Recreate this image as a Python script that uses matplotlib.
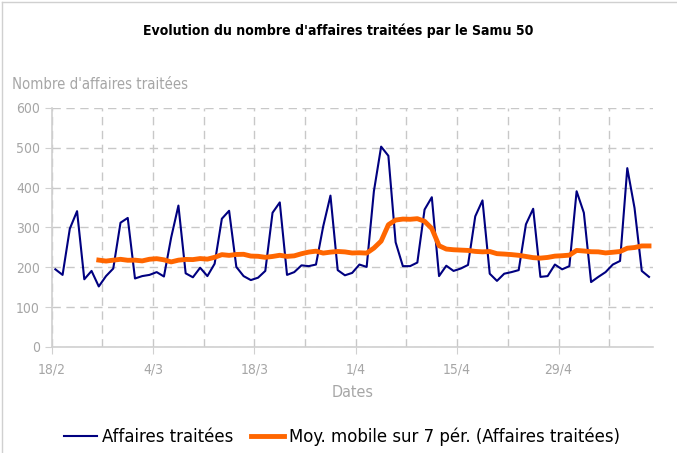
import matplotlib.pyplot as plt
from matplotlib.lines import Line2D
import pandas as pd

plt.rcParams['font.family'] = ['DejaVu Sans']
plt.rcParams['font.stretch'] = 'condensed'

# Affaires traitées par jour, à partir du 18/2
debut = '2021-02-18'
affaires = [195, 181, 297, 341, 170, 191, 152,
            178, 197, 312, 324, 172, 178, 181,
            188, 177, 275, 355, 185, 175, 199,
            178, 209, 322, 342, 201, 178, 168,
            174, 191, 337, 363, 181, 188, 205,
            203, 207, 303, 380, 193, 180, 186,
            207, 201, 391, 503, 480, 263, 203,
            203, 212, 345, 376, 178, 204, 191,
            197, 206, 328, 368, 184, 166, 184,
            188, 193, 308, 347, 176, 178, 207,
            195, 203, 391, 337, 163, 176, 188,
            207, 216, 449, 349, 191, 176]
ticks_txt = ['18/2', '4/3', '18/3', '1/4', '15/4', '29/4']
ticks_dates = ['2021-02-18', '2021-03-04', '2021-03-18', '2021-04-01', '2021-04-15', '2021-04-29']
yticks = [0, 100, 200, 300, 400, 500, 600]

dates = pd.date_range(debut, periods=len(affaires), freq='D')
serie = pd.Series(affaires, index=dates)
# moyenne mobile sur 7 périodes (comme Excel)
moy = serie.rolling(7).mean()
x = dates + pd.Timedelta(hours=12)

fig = plt.figure(figsize=(6.77, 4.53), dpi=100)
ax = fig.add_axes([0.0764, 0.234, 0.8876, 0.5276])

ax.plot(x, serie.values, color='#000080', lw=1.5, label='Affaires traitées')
ax.plot(x, moy.values, color='#ff6600', lw=3.5, label='Moy. mobile sur 7 pér. (Affaires traitées)')

fin = pd.Timestamp(debut) + pd.Timedelta(days=len(affaires))
ax.set_xlim(pd.Timestamp(debut), fin)
ax.set_ylim(0, 600)
ax.set_yticks(yticks)
ax.set_xticks(pd.to_datetime(ticks_dates))
ax.set_xticklabels(ticks_txt)
ax.set_xticks(pd.date_range(debut, fin, freq='7D'), minor=True)

gris = '#a6a6a6'
ax.grid(True, which='both', axis='x', color='#c8c8c8', linestyle=(0, (6, 4)), lw=1)
ax.grid(True, which='major', axis='y', color='#c8c8c8', linestyle=(0, (6, 4)), lw=1)
ax.set_axisbelow(True)
for s in ['top', 'right']:
    ax.spines[s].set_visible(False)
for s in ['left', 'bottom']:
    ax.spines[s].set_color('#d0d0d0')
    ax.spines[s].set_linewidth(1.2)
ax.tick_params(axis='both', which='major', colors='#d0d0d0', labelcolor=gris, labelsize=10, length=5)
ax.tick_params(axis='x', which='minor', length=0)
ax.tick_params(axis='x', pad=6)

ax.set_xlabel('Dates', color=gris, fontsize=11.5, labelpad=6)
fig.text(0.018, 0.803, "Nombre d'affaires traitées", color=gris, fontsize=10.7)
fig.text(0.5, 0.922, "Evolution du nombre d'affaires traitées par le Samu 50",
         ha='center', fontsize=10.1, fontweight='bold')

fig.legend(loc='center', bbox_to_anchor=(0.505, 0.035), ncol=2, frameon=False,
           fontsize=13.2, handlelength=1.8, handletextpad=0.25, columnspacing=1.0)

# bordure du graphique
fig.add_artist(Line2D([0.003, 0.003], [0, 0.996], transform=fig.transFigure, color='#d0d0d0', lw=1))
fig.add_artist(Line2D([0.003, 1], [0.996, 0.996], transform=fig.transFigure, color='#d0d0d0', lw=1))

fig.savefig('out.png', dpi=100)
